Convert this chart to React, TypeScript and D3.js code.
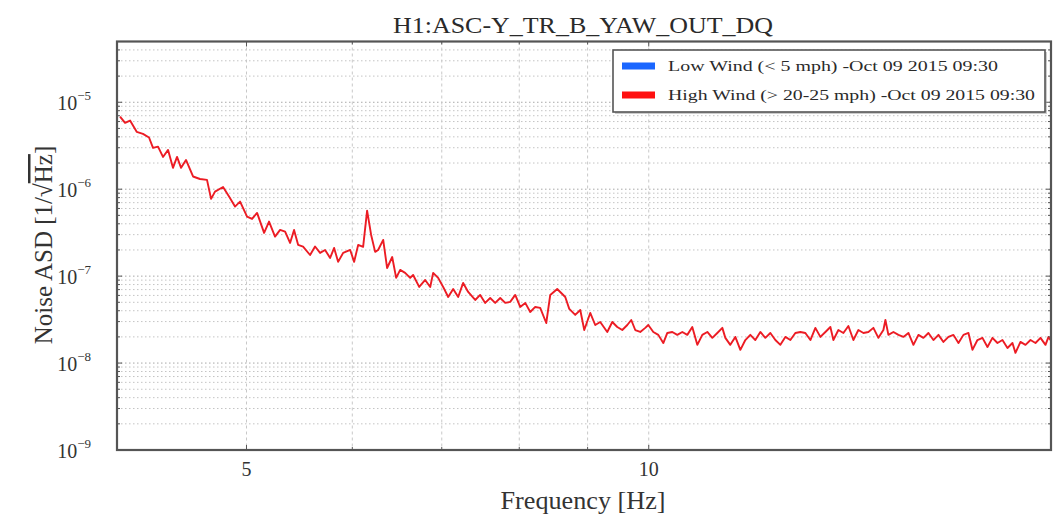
import React from 'react';
import * as d3 from 'd3';

// Frequency bins [Hz] and amplitude spectral density [1/sqrt(Hz)] of the high-wind segment
const frequencies = [
  4.021, 4.056, 4.091, 4.138, 4.183, 4.227, 4.256, 4.293, 4.33, 4.368,
  4.405, 4.436, 4.467, 4.505, 4.56, 4.615, 4.671, 4.704, 4.736, 4.802,
  4.852, 4.902, 4.945, 5.005, 5.048, 5.092, 5.154, 5.198, 5.252, 5.298,
  5.344, 5.39, 5.427, 5.465, 5.512, 5.579, 5.627, 5.676, 5.725, 5.775,
  5.815, 5.855, 5.906, 5.978, 6.019, 6.061, 6.113, 6.155, 6.198, 6.241,
  6.273, 6.328, 6.371, 6.427, 6.471, 6.516, 6.572, 6.629, 6.663, 6.733,
  6.803, 6.862, 6.897, 6.957, 7.017, 7.078, 7.139, 7.201, 7.263, 7.326,
  7.415, 7.479, 7.544, 7.609, 7.675, 7.742, 7.809, 7.876, 7.945, 8.013,
  8.083, 8.153, 8.223, 8.294, 8.381, 8.439, 8.541, 8.66, 8.72, 8.81,
  8.887, 8.948, 9.041, 9.119, 9.198, 9.31, 9.391, 9.472, 9.554, 9.637,
  9.703, 9.77, 9.855, 9.94, 9.992, 10.079, 10.166, 10.254, 10.325, 10.414,
  10.504, 10.595, 10.687, 10.779, 10.873, 10.967, 11.062, 11.158, 11.254, 11.352,
  11.411, 11.509, 11.609, 11.71, 11.811, 11.913, 12.016, 12.12, 12.225, 12.331,
  12.438, 12.546, 12.654, 12.764, 12.874, 12.986, 13.098, 13.212, 13.326, 13.441,
  13.558, 13.675, 13.746, 13.865, 13.985, 14.106, 14.228, 14.351, 14.476, 14.601,
  14.727, 14.855, 14.983, 15.035, 15.113, 15.244, 15.376, 15.509, 15.643, 15.779,
  15.915, 16.053, 16.192, 16.332, 16.474, 16.616, 16.76, 16.905, 17.052, 17.199,
  17.348, 17.468, 17.619, 17.772, 17.926, 18.081, 18.238, 18.395, 18.555, 18.715,
  18.812, 18.975, 19.14, 19.305, 19.472, 19.641, 19.811, 19.914, 19.982,
];

const highWindAsd = [
  6.85e-6, 5.79e-6, 6.16e-6, 4.57e-6, 4.33e-6, 3.93e-6, 2.99e-6, 3.09e-6, 2.35e-6, 2.83e-6,
  1.76e-6, 2.35e-6, 1.76e-6, 2.17e-6, 1.4e-6, 1.31e-6, 1.28e-6, 7.73e-7, 9.38e-7, 1.06e-6,
  8.22e-7, 6.31e-7, 7.2e-7, 4.84e-7, 4.55e-7, 5.34e-7, 3.14e-7, 4.24e-7, 2.85e-7, 3.4e-7,
  3.25e-7, 2.41e-7, 3.4e-7, 2.29e-7, 2.19e-7, 1.75e-7, 2.19e-7, 1.85e-7, 2.0e-7, 1.62e-7,
  2.11e-7, 1.46e-7, 1.85e-7, 2.0e-7, 1.46e-7, 2.29e-7, 2.17e-7, 5.67e-7, 2.98e-7, 1.9e-7,
  2.0e-7, 2.61e-7, 1.24e-7, 1.66e-7, 9.54e-8, 1.18e-7, 1.09e-7, 9.54e-8, 1.03e-7, 7.51e-8,
  9.04e-8, 7.51e-8, 1.09e-7, 9.54e-8, 7.51e-8, 5.76e-8, 7.12e-8, 5.76e-8, 8.35e-8, 6.58e-8,
  5.32e-8, 6.08e-8, 4.92e-8, 5.61e-8, 4.92e-8, 5.61e-8, 4.92e-8, 5.05e-8, 6.08e-8, 4.42e-8,
  4.92e-8, 3.87e-8, 4.42e-8, 4.31e-8, 2.89e-8, 6.08e-8, 7.12e-8, 5.76e-8, 4.2e-8, 3.58e-8,
  4.08e-8, 2.4e-8, 3.77e-8, 2.74e-8, 2.97e-8, 2.28e-8, 2.97e-8, 2.6e-8, 2.4e-8, 2.74e-8,
  3.13e-8, 2.4e-8, 2.28e-8, 2.54e-8, 2.74e-8, 2.28e-8, 2.11e-8, 1.7e-8, 2.22e-8, 2.28e-8,
  2.11e-8, 2.28e-8, 2.11e-8, 2.6e-8, 1.62e-8, 2.11e-8, 2.28e-8, 1.95e-8, 2.22e-8, 2.54e-8,
  1.95e-8, 1.62e-8, 2.0e-8, 1.42e-8, 1.84e-8, 2.11e-8, 1.84e-8, 2.28e-8, 1.95e-8, 2.22e-8,
  1.84e-8, 1.62e-8, 2.0e-8, 1.84e-8, 2.22e-8, 2.28e-8, 2.22e-8, 1.84e-8, 2.54e-8, 2.0e-8,
  2.28e-8, 2.6e-8, 1.84e-8, 2.4e-8, 2.22e-8, 2.67e-8, 1.84e-8, 2.4e-8, 2.22e-8, 2.28e-8,
  2.54e-8, 1.95e-8, 2.4e-8, 3.13e-8, 2.11e-8, 2.28e-8, 2.11e-8, 2.0e-8, 2.22e-8, 1.62e-8,
  2.11e-8, 1.95e-8, 2.22e-8, 1.84e-8, 2.11e-8, 1.75e-8, 2.0e-8, 2.11e-8, 1.7e-8, 2.11e-8,
  2.22e-8, 1.42e-8, 1.84e-8, 1.95e-8, 1.53e-8, 1.95e-8, 1.7e-8, 1.84e-8, 1.49e-8, 1.7e-8,
  1.31e-8, 1.75e-8, 1.62e-8, 1.84e-8, 1.7e-8, 1.95e-8, 1.62e-8, 2.0e-8, 1.84e-8,
];

const xTickValues = [5, 10];
const xTickLabels = ['5', '10'];
const yTickExponents = [-9, -8, -7, -6, -5];

const legendLabels = [
  'Low Wind (< 5 mph) -Oct 09 2015 09:30',
  'High Wind (> 20-25 mph) -Oct 09 2015 09:30',
];
const legendColors = ['#1a66ff', '#ff1010'];

const W = 1055;
const H = 519;
const plot = { left: 117, right: 1051, top: 41.5, bottom: 450 };
const SERIF = '"Liberation Serif", "DejaVu Serif", serif';

export default function App() {
  const x = d3.scaleLog().domain([4, 20]).range([plot.left, plot.right]);
  const y = d3.scaleLog().domain([1e-9, 5e-5]).range([plot.bottom, plot.top]);

  const points: [number, number][] = frequencies.map((f, i) => [f, highWindAsd[i]]);
  const line = d3
    .line<[number, number]>()
    .x((d) => x(d[0]))
    .y((d) => y(d[1]));

  // minor + major horizontal grid (1..9 x 10^n)
  const yGrid: number[] = [];
  for (let e = -9; e <= -5; e++) {
    for (let m = 1; m <= 9; m++) {
      const v = m * Math.pow(10, e);
      if (v >= 1e-9 && v <= 5e-5 + 1e-12) yGrid.push(v);
    }
  }
  const xGrid = [5, 6, 7, 8, 9, 10];
  const isDecade = (v: number) => Math.abs(Math.log10(v) - Math.round(Math.log10(v))) < 1e-6;

  const legendX = 613;
  const legendY = 50;
  const legendW = 432;
  const legendH = 62;

  return (
    <svg
      width={W}
      height={H}
      viewBox={`0 0 ${W} ${H}`}
      style={{ position: 'absolute', left: 0, top: 0, background: '#fff' }}
    >
      <rect x={0} y={0} width={W} height={H} fill="#fff" />

      {/* grid */}
      <g>
        {yGrid.map((v, i) => (
          <line
            key={'hy' + i}
            x1={plot.left}
            x2={plot.right}
            y1={y(v)}
            y2={y(v)}
            stroke={isDecade(v) ? '#a8a8a8' : '#c4c4c4'}
            strokeWidth={1}
            strokeDasharray="1.5,2.5"
          />
        ))}
        {xGrid.map((f, i) => (
          <line
            key={'vx' + i}
            x1={x(f)}
            x2={x(f)}
            y1={plot.top}
            y2={plot.bottom}
            stroke="#c8c8c8"
            strokeWidth={1}
            strokeDasharray="3,3"
          />
        ))}
      </g>

      {/* data */}
      <path d={line(points) || ''} fill="none" stroke="#ec1c24" strokeWidth={1.9} strokeLinejoin="round" />

      {/* ticks inside the frame */}
      <g stroke="#555" strokeWidth={1}>
        {xGrid.map((f, i) => (
          <g key={'xt' + i}>
            <line x1={x(f)} x2={x(f)} y1={plot.bottom} y2={plot.bottom - (f === 5 || f === 10 ? 5 : 3)} />
            <line x1={x(f)} x2={x(f)} y1={plot.top} y2={plot.top + (f === 5 || f === 10 ? 5 : 3)} />
          </g>
        ))}
        {yGrid.map((v, i) => {
          const len = isDecade(v) ? 5 : 3;
          return (
            <g key={'yt' + i}>
              <line x1={plot.left} x2={plot.left + len} y1={y(v)} y2={y(v)} />
              <line x1={plot.right} x2={plot.right - len} y1={y(v)} y2={y(v)} />
            </g>
          );
        })}
      </g>

      {/* frame */}
      <rect
        x={plot.left}
        y={plot.top}
        width={plot.right - plot.left}
        height={plot.bottom - plot.top}
        fill="none"
        stroke="#555"
        strokeWidth={2.2}
      />

      {/* legend */}
      <g>
        <rect x={legendX + 2} y={legendY + 2} width={legendW} height={legendH} fill="#999" opacity={0.5} />
        <rect x={legendX} y={legendY} width={legendW} height={legendH} fill="#fff" stroke="#555" strokeWidth={1.6} />
        {legendLabels.map((label, i) => {
          const cy = legendY + 16 + i * 29;
          return (
            <g key={'lg' + i}>
              <line x1={legendX + 9} x2={legendX + 42} y1={cy} y2={cy} stroke={legendColors[i]} strokeWidth={7} />
              <text
                x={legendX + 55}
                y={cy + 5}
                fontFamily={SERIF}
                fontSize={15}
                fill="#2a2a2a"
                textLength={i === 0 ? 330 : 367}
                lengthAdjust="spacingAndGlyphs"
              >
                {label}
              </text>
            </g>
          );
        })}
      </g>

      {/* x tick labels */}
      {xTickValues.map((v, i) => (
        <text
          key={'xl' + i}
          x={x(v)}
          y={476}
          textAnchor="middle"
          fontFamily={SERIF}
          fontSize={20}
          fill="#333"
        >
          {xTickLabels[i]}
        </text>
      ))}

      {/* y tick labels */}
      {yTickExponents.map((e) => {
        const ty = y(Math.pow(10, e));
        return (
          <text key={'yl' + e} x={91} y={ty + 8} textAnchor="end" fontFamily={SERIF} fontSize={20} fill="#333">
            10
            <tspan fontSize={13} dy={-10}>
              {'\u2212' + Math.abs(e)}
            </tspan>
          </text>
        );
      })}

      {/* title */}
      <text
        x={583}
        y={33}
        textAnchor="middle"
        fontFamily={SERIF}
        fontSize={24}
        fill="#2a2a2a"
        textLength={380}
        lengthAdjust="spacingAndGlyphs"
      >
        H1:ASC-Y_TR_B_YAW_OUT_DQ
      </text>

      {/* axis labels */}
      <text
        x={583}
        y={509}
        textAnchor="middle"
        fontFamily={SERIF}
        fontSize={25}
        fill="#333"
        textLength={165}
        lengthAdjust="spacingAndGlyphs"
      >
        Frequency [Hz]
      </text>
      <text
        transform={`translate(52,245) rotate(-90)`}
        textAnchor="middle"
        fontFamily={SERIF}
        fontSize={25}
        fill="#333"
      >
        Noise ASD [1/√<tspan style={{ textDecoration: 'overline' }}>Hz</tspan>]
      </text>
    </svg>
  );
}
